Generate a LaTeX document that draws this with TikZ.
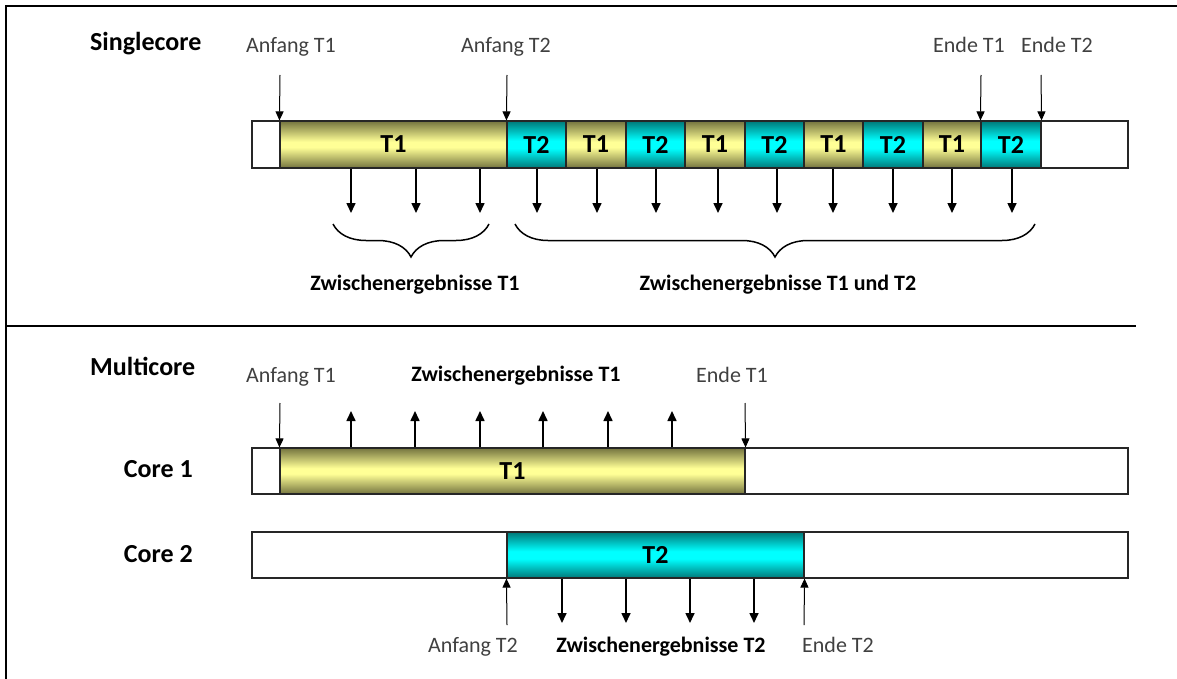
\documentclass[tikz,border=0pt]{standalone}
\usepackage{fontspec}
\setmainfont{Carlito}
\usetikzlibrary{arrows.meta,decorations.pathreplacing}

\definecolor{tonedark}{HTML}{74743F}
\definecolor{tonelight}{HTML}{FFFF96}
\definecolor{tealdark}{HTML}{007878}
\definecolor{teallight}{HTML}{00FFFF}
\definecolor{labelgray}{HTML}{404040}

% the path box is mapped onto the middle 25bp..75bp band of a shading
\pgfdeclareverticalshading{taskone}{100bp}{color(0bp)=(tonedark); color(25bp)=(tonedark); color(47bp)=(tonelight); color(53bp)=(tonelight); color(75bp)=(tonedark); color(100bp)=(tonedark)}
\pgfdeclareverticalshading{tasktwo}{100bp}{color(0bp)=(tealdark); color(25bp)=(tealdark); color(46bp)=(teallight); color(54bp)=(teallight); color(75bp)=(tealdark); color(100bp)=(tealdark)}

\tikzset{
  seg/.style={draw=black!85, line width=1.1pt, inner sep=0pt,
    font=\bfseries\fontsize{26}{26}\selectfont},
  segA/.style={seg, shading=taskone},
  segB/.style={seg, shading=tasktwo},
  segE/.style={seg, fill=white},
  plain/.style={inner sep=0pt, anchor=base, text=labelgray,
    font=\fontsize{22}{22}\selectfont},
  heading/.style={inner sep=0pt, anchor=base, text=black,
    font=\bfseries\fontsize{26}{26}\selectfont},
  result/.style={inner sep=0pt, anchor=base, text=black,
    font=\bfseries\fontsize{22}{22}\selectfont},
  pointer/.style={line width=1pt, -{Triangle[width=8pt,length=9pt]}},
  outflow/.style={line width=1.6pt, -{Triangle[width=9pt,length=10pt]}},
  curly/.style={line width=1.5pt, decorate,
    decoration={brace, mirror, amplitude=33pt}},
}

% one bar segment: style, left x, right x, centre y, height, text, name
\newcommand\barseg[7]{%
  \node[#1, minimum width={(#3-#2)*1pt}, minimum height={#5*1pt}]
    (#7) at ({(#2+#3)/2},#4) {#6};}

\begin{document}
\begin{tikzpicture}[x=1pt,y=-1pt]
\useasboundingbox (0,0) rectangle (1177,679);

% frame
\draw[line width=2pt] (6,679) -- (6,6) -- (1177,6);

% ---------------- Singlecore ----------------
\node[heading, anchor=base west] (hs) at (90,51) {Singlecore};

\barseg{segE}{252}{280}{144.5}{47}{}{s0}
\barseg{segA}{280}{507}{144.5}{47}{T1}{s1}
\barseg{segB}{507}{566}{144.5}{47}{T2}{s2}
\barseg{segA}{566}{626}{144.5}{47}{T1}{s3}
\barseg{segB}{626}{685}{144.5}{47}{T2}{s4}
\barseg{segA}{685}{745}{144.5}{47}{T1}{s5}
\barseg{segB}{745}{804}{144.5}{47}{T2}{s6}
\barseg{segA}{804}{863}{144.5}{47}{T1}{s7}
\barseg{segB}{863}{923}{144.5}{47}{T2}{s8}
\barseg{segA}{923}{981}{144.5}{47}{T1}{s9}
\barseg{segB}{981}{1041}{144.5}{47}{T2}{s10}
\barseg{segE}{1041}{1128}{144.5}{47}{}{s11}

\node[plain] (la1) at (291,53) {Anfang T1};
\node[plain] (la2) at (506,53) {Anfang T2};
\node[plain] (le1) at (969,53) {Ende T1};
\node[plain] (le2) at (1057,53) {Ende T2};

\coordinate (pa1) at (280,75);
\coordinate (pa2) at (507,75);
\coordinate (pe1) at (981,75);
\coordinate (pe2) at (1041,75);
\draw[pointer] (pa1) -- (s1.north west);
\draw[pointer] (pa2) -- (s2.north west);
\draw[pointer] (pe1) -- (s10.north west);
\draw[pointer] (pe2) -- (s10.north east);

\foreach \x [count=\i] in {351,416,480,537,597,656,718,777,833,893,952,1012}
  \coordinate (r\i) at (\x,213);
\foreach \i/\s in {1/s1,2/s1,3/s1,4/s2,5/s3,6/s4,7/s5,8/s6,9/s7,10/s8,11/s9,12/s10}
  \draw[outflow] (r\i |- \s.south) -- (r\i);

\coordinate (b1l) at (333,224);
\coordinate (b1r) at (489,224);
\coordinate (b2l) at (515,224);
\coordinate (b2r) at (1035,224);
\draw[curly] (b1l) -- (b1r);
\draw[curly] (b2l) -- (b2r);

\node[result] (z1) at (415,290) {Zwischenergebnisse T1};
\node[result] (z12) at (778,290) {Zwischenergebnisse T1 und T2};

% separator
\coordinate (sepl) at (6,326);
\coordinate (sepr) at (1136,326);
\draw[line width=1.3pt] (sepl) -- (sepr);

% ---------------- Multicore ----------------
\node[heading, anchor=base west] (hm) at (90,375) {Multicore};
\node[heading, anchor=base east] (k1) at (193,477) {Core 1};
\node[heading, anchor=base east] (k2) at (193,562) {Core 2};

\barseg{segE}{252}{280}{471}{46}{}{c0}
\barseg{segA}{280}{745}{471}{46}{T1}{c1}
\barseg{segE}{745}{1128}{471}{46}{}{c2}

\barseg{segE}{252}{507}{555}{46}{}{d0}
\barseg{segB}{507}{804}{555}{46}{T2}{d1}
\barseg{segE}{804}{1128}{555}{46}{}{d2}

\node[plain] (ma1) at (291,382) {Anfang T1};
\node[result] (mz1) at (516,381) {Zwischenergebnisse T1};
\node[plain] (me1) at (732,382) {Ende T1};

\coordinate (qa1) at (280,403);
\coordinate (qe1) at (745,403);
\draw[pointer] (qa1) -- (c1.north west);
\draw[pointer] (qe1) -- (c1.north east);

\foreach \x [count=\i] in {351,415,480,543,608,672}
  \coordinate (u\i) at (\x,411);
\foreach \i in {1,...,6}
  \draw[outflow] (u\i |- c1.north) -- (u\i);

\coordinate (qa2) at (507,625);
\coordinate (qe2) at (804,625);
\draw[pointer] (qa2) -- (d1.south west);
\draw[pointer] (qe2) -- (d1.south east);

\foreach \x [count=\i] in {562,626,690,754}
  \coordinate (v\i) at (\x,623);
\foreach \i in {1,...,4}
  \draw[outflow] (v\i |- d1.south) -- (v\i);

\node[plain] (ma2) at (473,652) {Anfang T2};
\node[result] (mz2) at (661,652) {Zwischenergebnisse T2};
\node[plain] (me2) at (838,652) {Ende T2};
\end{tikzpicture}
\end{document}
